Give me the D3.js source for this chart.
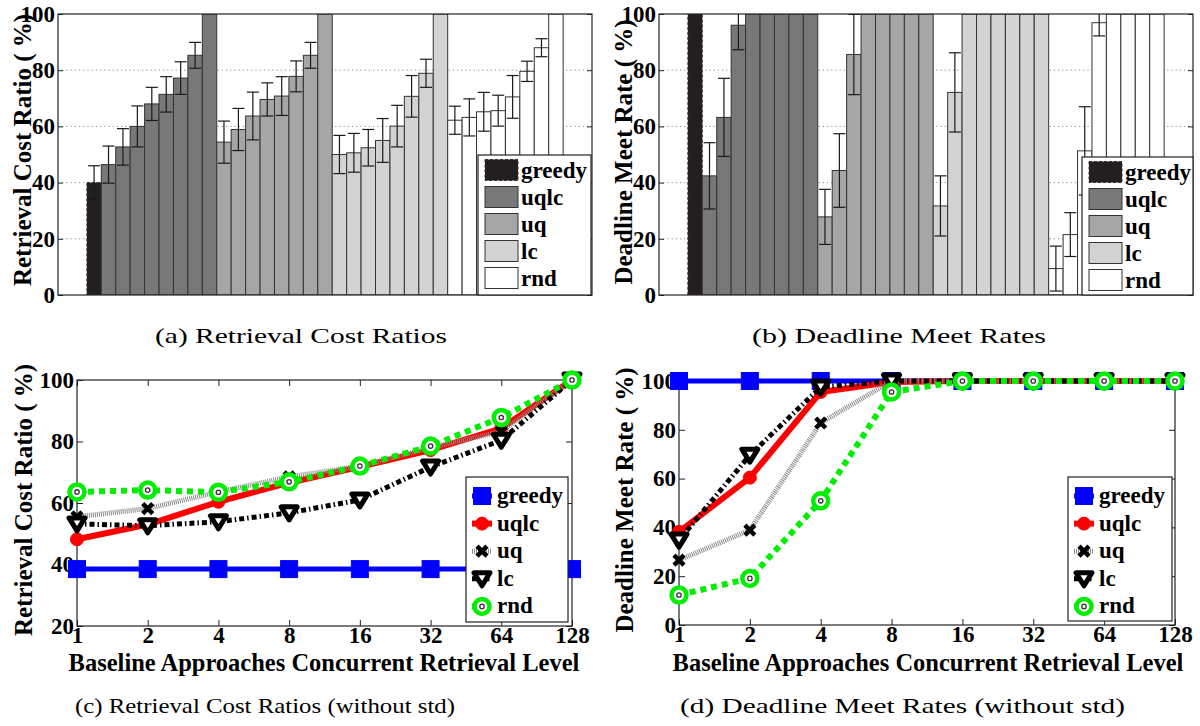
<!DOCTYPE html>
<html lang="en">
<head>
<meta charset="utf-8">
<title>Baseline Approaches</title>
<script src="https://d3js.org/d3.v7.min.js"></script>
<style>
    body { margin: 0; background: #fff; }
    text { font-family: "Liberation Serif", "Times New Roman", serif; fill: #000; }
    .bold { font-weight: bold; }
</style>
</head>
<body>
<svg id="fig"></svg>
<script>

// ---- data ----
const approaches = ["greedy", "uqlc", "uq", "lc", "rnd"];
const levels = [1, 2, 4, 8, 16, 32, 64, 128];

// (a) retrieval cost ratio, mean and std per level
const costMeanGreedy = [40];
const costStdGreedy  = [6];
const costMeanUqlc = [46.4, 52.7, 60.0, 68.0, 71.4, 77.2, 85.3, 100];
const costStdUqlc  = [6.6, 6.5, 7.3, 5.9, 6.3, 5.8, 4.6, 0];
const costMeanUq   = [54.4, 58.9, 63.7, 69.6, 70.8, 77.8, 85.3, 100];
const costStdUq    = [7.5, 7.5, 8.5, 5.9, 6.9, 5.5, 4.6, 0];
const costMeanLc   = [50.0, 50.6, 52.4, 55.0, 60.1, 70.7, 78.9, 100];
const costStdLc    = [6.8, 6.9, 6.5, 7.8, 7.4, 7.4, 5.0, 0];
const costMeanRnd  = [62.2, 63.2, 65.2, 65.6, 70.5, 79.6, 88.0, 100];
const costStdRnd   = [5.0, 6.6, 6.9, 5.5, 7.6, 3.6, 3.2, 0];

// (b) deadline meet rate
const meetMeanGreedy = [100];
const meetStdGreedy  = [0];
const meetMeanUqlc = [42.4, 63.2, 96.0, 100, 100, 100, 100, 100];
const meetStdUqlc  = [11.8, 13.9, 8.7, 0, 0, 0, 0, 0];
const meetMeanUq   = [27.8, 44.3, 85.6, 100, 100, 100, 100, 100];
const meetStdUq    = [9.8, 13.1, 14.3, 0, 0, 0, 0, 0];
const meetMeanLc   = [31.7, 72.1, 100, 100, 100, 100, 100, 100];
const meetStdLc    = [10.7, 14.1, 0, 0, 0, 0, 0, 0];
const meetMeanRnd  = [9.4, 21.5, 51.3, 96.9, 100, 100, 100, 100];
const meetStdRnd   = [8.0, 7.8, 15.7, 4.7, 0, 0, 0, 0];

// (c) retrieval cost ratio lines
const costLineGreedy = [38.5, 38.5, 38.5, 38.5, 38.5, 38.5, 38.5, 38.5];
const costLineUqlc = [48.2, 53.0, 60.4, 66.6, 71.8, 77.2, 84.3, 100];
const costLineUq   = [55.5, 58.2, 63.6, 68.5, 72.0, 78.0, 83.2, 100];
const costLineLc   = [53.2, 52.6, 53.9, 56.8, 61.0, 71.7, 80.4, 100];
const costLineRnd  = [63.6, 64.2, 63.5, 66.9, 72.0, 78.5, 87.8, 100];

// (d) deadline meet rate lines
const meetLineGreedy = [100, 100, 100, 100, 100, 100, 100, 100];
const meetLineUqlc = [38.2, 60.4, 95.5, 99.6, 100, 100, 100, 100];
const meetLineUq   = [26.6, 38.9, 82.8, 100, 100, 100, 100, 100];
const meetLineLc   = [34.8, 69.6, 97.5, 100, 100, 100, 100, 100];
const meetLineRnd  = [12.3, 19.1, 50.9, 95.5, 100, 100, 100, 100];

const barTicks = [0, 20, 40, 60, 80, 100];
const costTicks = [20, 40, 60, 80, 100];
const meetTicks = [0, 20, 40, 60, 80, 100];

// ---- styles ----
const barFill = ["#231f20", "#787878", "#a6a6a6", "#d3d3d3", "#ffffff"];
const lineStyle = [
    {color: "#0000ff", width: 5, dash: null,         marker: "square"},
    {color: "#ff0000", width: 6, dash: null,         marker: "circle"},
    {color: "#8a8a8a", width: 5, dash: "1,1",        marker: "cross"},
    {color: "#000000", width: 5, dash: "5,3,1.5,3",  marker: "tri"},
    {color: "#00ee00", width: 6, dash: "6,5",        marker: "ring"}
];
const frameColor = "#222";

let svg = d3.select("#fig").attr("width", 1200).attr("height", 726);

function yLabel(x, y, txt) {
    svg.append("text")
        .attr("class", "bold")
        .attr("transform", `translate(${x},${y}) rotate(-90)`)
        .attr("text-anchor", "middle")
        .style("font-size", "25px")
        .text(txt);
}

function caption(x0, x1, y, txt) {
    svg.append("text")
        .attr("x", x0).attr("y", y)
        .attr("textLength", x1 - x0)
        .attr("lengthAdjust", "spacingAndGlyphs")
        .style("font-size", "22px")
        .text(txt);
}

function styleTicks(g) {
    g.select(".domain").remove();
    g.selectAll(".tick line").attr("stroke", frameColor).attr("stroke-width", 1);
    g.selectAll(".tick text")
        .attr("class", "bold")
        .style("font-family", "'Liberation Serif', serif")
        .style("font-size", "23px")
        .attr("fill", "#000");
}

// ---- bar chart (a)/(b) ----
function barChart(id, box, means, stds, legendBox) {
    let x = d3.scaleLinear().domain([-2, 35]).range([box.x0, box.x1]);
    let y = d3.scaleLinear().domain([0, 100]).range([box.y1, box.y0]);

    let bars = [];
    means.forEach((arr, gi) => {
        arr.forEach((m, j) => {
            let idx = gi === 0 ? 0 : 1 + (gi - 1) * 8 + j;
            bars.push({gi: gi, idx: idx, mean: m, std: stds[gi][j]});
        });
    });

    svg.append("clipPath").attr("id", id)
        .append("rect")
        .attr("x", box.x0).attr("y", box.y0)
        .attr("width", box.x1 - box.x0).attr("height", box.y1 - box.y0);

    let g = svg.append("g");

    // dotted grid
    g.selectAll(".grid")
        .data(barTicks.filter(t => t > 0 && t < 100))
        .enter().append("line")
        .attr("x1", box.x0).attr("x2", box.x1)
        .attr("y1", d => y(d)).attr("y2", d => y(d))
        .attr("stroke", "#8a8a8a")
        .attr("stroke-dasharray", "1.2,3");

    g.append("g").attr("clip-path", `url(#${id})`)
        .selectAll("rect")
        .data(bars)
        .enter().append("rect")
        .attr("x", d => x(d.idx))
        .attr("width", d => x(d.idx + 1) - x(d.idx))
        .attr("y", d => y(d.mean))
        .attr("height", d => y(0) - y(d.mean))
        .attr("fill", d => barFill[d.gi])
        .attr("stroke", "#333")
        .attr("stroke-width", 1)
        .attr("stroke-dasharray", d => d.gi === 0 ? "3,2" : null);

    let err = g.append("g").attr("clip-path", `url(#${id})`)
        .selectAll("g")
        .data(bars.filter(d => d.std > 0))
        .enter().append("g")
        .attr("stroke", "#1a1a1a")
        .attr("stroke-width", 1.2);
    let cx = d => (x(d.idx) + x(d.idx + 1)) / 2;
    err.append("line")
        .attr("x1", cx).attr("x2", cx)
        .attr("y1", d => y(d.mean - d.std)).attr("y2", d => y(d.mean + d.std));
    [1, -1].forEach(s => {
        err.append("line")
            .attr("x1", d => cx(d) - 6).attr("x2", d => cx(d) + 6)
            .attr("y1", d => y(d.mean + s * d.std)).attr("y2", d => y(d.mean + s * d.std));
    });

    g.append("g")
        .attr("transform", `translate(${box.x0},0)`)
        .call(d3.axisLeft(y).tickValues(barTicks).tickSizeInner(-5).tickSizeOuter(0).tickPadding(3))
        .call(styleTicks);
    g.append("g")
        .attr("transform", `translate(${box.x1},0)`)
        .call(d3.axisRight(y).tickValues(barTicks).tickSizeInner(-5).tickSizeOuter(0).tickFormat(""))
        .call(styleTicks);

    g.append("rect")
        .attr("x", box.x0).attr("y", box.y0)
        .attr("width", box.x1 - box.x0).attr("height", box.y1 - box.y0)
        .attr("fill", "none").attr("stroke", frameColor).attr("stroke-width", 1.2);

    // legend
    let lg = g.append("g");
    lg.append("rect")
        .attr("x", legendBox.x0).attr("y", legendBox.y0)
        .attr("width", legendBox.x1 - legendBox.x0).attr("height", legendBox.y1 - legendBox.y0)
        .attr("fill", "#fff").attr("stroke", frameColor).attr("stroke-width", 1.2);
    let item = lg.selectAll(".item")
        .data(approaches)
        .enter().append("g")
        .attr("transform", (d, i) => `translate(${legendBox.x0 + 7},${legendBox.y0 + 15 + i * 27})`);
    item.append("rect")
        .attr("x", 0).attr("y", -10.5).attr("width", 33).attr("height", 21)
        .attr("fill", (d, i) => barFill[i])
        .attr("stroke", "#333")
        .attr("stroke-dasharray", (d, i) => i === 0 ? "3,2" : null);
    item.append("text")
        .attr("class", "bold")
        .attr("x", 36).attr("y", 8)
        .style("font-size", "23px")
        .text(d => d);
}

// ---- markers ----
function marker(sel, type, color) {
    if (type === "square") {
        sel.append("rect").attr("x", -8.5).attr("y", -8.5).attr("width", 17).attr("height", 17)
            .attr("fill", color).attr("stroke", color);
    } else if (type === "circle") {
        sel.append("circle").attr("r", 6.5).attr("fill", color).attr("stroke", color).attr("stroke-width", 1);
    } else if (type === "cross") {
        sel.append("path").attr("d", "M-5,-5L5,5M-5,5L5,-5")
            .attr("stroke", "#000").attr("stroke-width", 4.5).attr("fill", "none");
    } else if (type === "tri") {
        sel.append("path").attr("d", "M-8,-6L8,-6L0,7Z")
            .attr("fill", "#fff").attr("stroke", "#000").attr("stroke-width", 5)
            .attr("stroke-linejoin", "round");
    } else if (type === "ring") {
        sel.append("circle").attr("r", 7.5).attr("fill", "#fff")
            .attr("stroke", color).attr("stroke-width", 4.5);
        sel.append("circle").attr("r", 2.2).attr("fill", "none")
            .attr("stroke", "#333").attr("stroke-width", 1.3);
    }
}

// ---- line chart (c)/(d) ----
function lineChart(box, series, yDomain, yTicks, legendBox) {
    let x = d3.scaleLog().base(2).domain([1, 128]).range([box.x0, box.x1]);
    let y = d3.scaleLinear().domain(yDomain).range([box.y1, box.y0]);
    let g = svg.append("g");

    g.append("g")
        .attr("transform", `translate(${box.x0},0)`)
        .call(d3.axisLeft(y).tickValues(yTicks).tickSizeInner(-6).tickSizeOuter(0).tickPadding(3))
        .call(styleTicks);
    g.append("g")
        .attr("transform", `translate(${box.x1},0)`)
        .call(d3.axisRight(y).tickValues(yTicks).tickSizeInner(-6).tickSizeOuter(0).tickFormat(""))
        .call(styleTicks);
    g.append("g")
        .attr("transform", `translate(0,${box.y1})`)
        .call(d3.axisBottom(x).tickValues(levels).tickSizeInner(-6).tickSizeOuter(0).tickPadding(1)
            .tickFormat(d3.format("d")))
        .call(styleTicks);
    g.append("g")
        .attr("transform", `translate(0,${box.y0})`)
        .call(d3.axisTop(x).tickValues(levels).tickSizeInner(-6).tickSizeOuter(0).tickFormat(""))
        .call(styleTicks);

    g.append("rect")
        .attr("x", box.x0).attr("y", box.y0)
        .attr("width", box.x1 - box.x0).attr("height", box.y1 - box.y0)
        .attr("fill", "none").attr("stroke", frameColor).attr("stroke-width", 1.2);

    let line = d3.line().x((d, i) => x(levels[i])).y(d => y(d));

    series.forEach((vals, si) => {
        let st = lineStyle[si];
        g.append("path")
            .attr("d", line(vals))
            .attr("fill", "none")
            .attr("stroke", st.color)
            .attr("stroke-width", st.width)
            .attr("stroke-dasharray", st.dash);
        g.selectAll(null)
            .data(vals)
            .enter().append("g")
            .attr("transform", (d, i) => `translate(${x(levels[i])},${y(d)})`)
            .each(function () { marker(d3.select(this), st.marker, st.color); });
    });

    // legend
    let lg = g.append("g");
    lg.append("rect")
        .attr("x", legendBox.x0).attr("y", legendBox.y0)
        .attr("width", legendBox.x1 - legendBox.x0).attr("height", legendBox.y1 - legendBox.y0)
        .attr("fill", "#fff").attr("stroke", frameColor).attr("stroke-width", 1.2);
    approaches.forEach((name, i) => {
        let st = lineStyle[i];
        let it = lg.append("g")
            .attr("transform", `translate(${legendBox.x0 + 16},${legendBox.y0 + 19 + i * 27.6})`);
        it.append("line").attr("x1", -10).attr("x2", 10)
            .attr("stroke", st.color).attr("stroke-width", st.width)
            .attr("stroke-dasharray", st.dash);
        marker(it, st.marker, st.color);
        it.append("text")
            .attr("class", "bold")
            .attr("x", 15).attr("y", 7)
            .style("font-size", "23px")
            .text(name);
    });
}

barChart("clipA", {x0: 58, x1: 592, y0: 14, y1: 295},
    [costMeanGreedy, costMeanUqlc, costMeanUq, costMeanLc, costMeanRnd],
    [costStdGreedy, costStdUqlc, costStdUq, costStdLc, costStdRnd],
    {x0: 478, x1: 591, y0: 155, y1: 295});

barChart("clipB", {x0: 659, x1: 1193, y0: 14, y1: 295},
    [meetMeanGreedy, meetMeanUqlc, meetMeanUq, meetMeanLc, meetMeanRnd],
    [meetStdGreedy, meetStdUqlc, meetStdUq, meetStdLc, meetStdRnd],
    {x0: 1082, x1: 1193, y0: 157, y1: 295});

lineChart({x0: 77, x1: 572, y0: 380, y1: 626},
    [costLineGreedy, costLineUqlc, costLineUq, costLineLc, costLineRnd],
    [20, 100], costTicks,
    {x0: 466, x1: 568, y0: 477, y1: 622});

lineChart({x0: 679, x1: 1175, y0: 381, y1: 625},
    [meetLineGreedy, meetLineUqlc, meetLineUq, meetLineLc, meetLineRnd],
    [0, 100], meetTicks,
    {x0: 1068, x1: 1172, y0: 477, y1: 621});

yLabel(31, 150, "Retrieval Cost Ratio ( %)");
yLabel(632, 152, "Deadline Meet Rate ( %)");
yLabel(32, 500, "Retrieval Cost Ratio ( %)");
yLabel(633, 500, "Deadline Meet Rate ( %)");

svg.append("text").attr("class", "bold")
    .attr("x", 324).attr("y", 671).attr("text-anchor", "middle")
    .style("font-size", "24.5px")
    .text("Baseline Approaches Concurrent Retrieval Level");
svg.append("text").attr("class", "bold")
    .attr("x", 928).attr("y", 671).attr("text-anchor", "middle")
    .style("font-size", "24.5px")
    .text("Baseline Approaches Concurrent Retrieval Level");

caption(155, 447, 343, "(a) Retrieval Cost Ratios");
caption(752, 1046, 343, "(b) Deadline Meet Rates");
caption(75, 455, 713, "(c) Retrieval Cost Ratios (without std)");
caption(680, 1125, 713, "(d) Deadline Meet Rates (without std)");

</script>
</body>
</html>
